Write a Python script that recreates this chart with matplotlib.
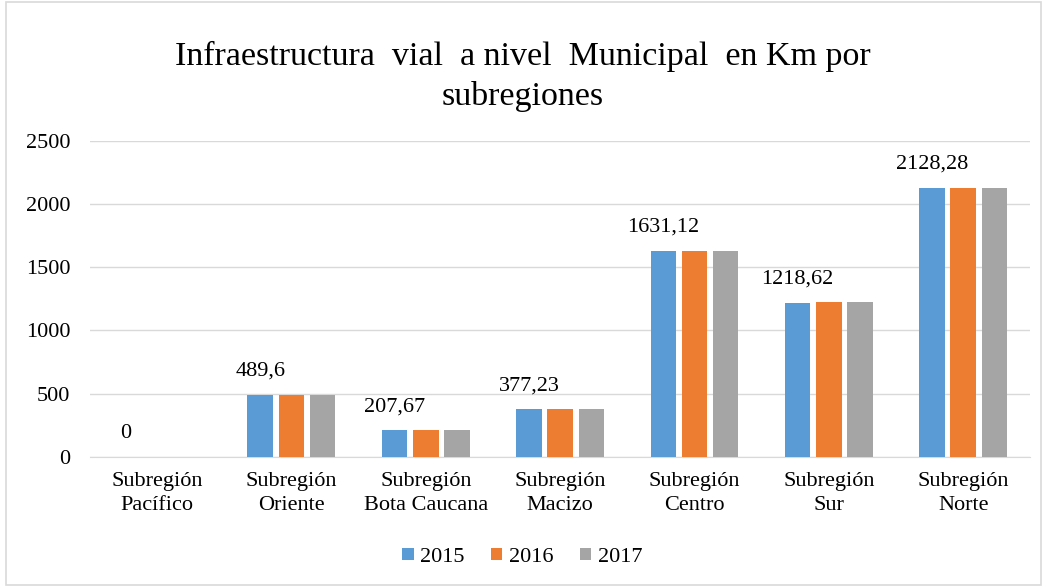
import numpy as np
import matplotlib.pyplot as plt
from matplotlib.patches import Rectangle

plt.rcParams['font.family'] = ['Liberation Serif', 'DejaVu Serif']

# datos
subregiones = ['Subregión\nPacífico', 'Subregión\nOriente', 'Subregión\nBota Caucana',
               'Subregión\nMacizo', 'Subregión\nCentro', 'Subregión\nSur', 'Subregión\nNorte']
km_2015 = [0, 489.6, 207.67, 377.23, 1631.12, 1218.62, 2128.28]
km_2016 = [0, 489.6, 207.67, 377.23, 1631.12, 1226.0, 2128.28]
km_2017 = [0, 489.6, 207.67, 377.23, 1631.12, 1226.0, 2128.28]
etiquetas = ['0', '489,6', '207,67', '377,23', '1631,12', '1218,62', '2128,28']

fig = plt.figure(figsize=(10.45, 5.87), dpi=100)
ax = fig.add_axes([0.086, 0.222, 0.9, 0.538])

x = np.arange(len(subregiones))
w = 0.19
paso = 0.232
ax.bar(x - paso, km_2015, w, color='#5b9bd5', label='2015', zorder=3)
ax.bar(x, km_2016, w, color='#ed7d31', label='2016', zorder=3)
ax.bar(x + paso, km_2017, w, color='#a5a5a5', label='2017', zorder=3)

# etiquetas sobre la serie 2015
for i, t in enumerate(etiquetas):
    ax.annotate(t, (x[i] - paso, km_2015[i]), xytext=(0, 10), textcoords='offset points',
                ha='center', va='bottom', fontsize=16)

ax.set_xlim(-0.5, 6.5)
ax.set_ylim(0, 2500)
ax.set_yticks(range(0, 2501, 500))
ax.set_xticks(x)
ax.set_xticklabels(subregiones, fontsize=16, linespacing=1.35)
ax.tick_params(axis='y', labelsize=16, length=0, pad=14)
ax.tick_params(axis='x', length=0, pad=11)
ax.grid(axis='y', color='#d9d9d9', linewidth=1, zorder=0)
for s in ['top', 'right', 'left']:
    ax.spines[s].set_visible(False)
ax.spines['bottom'].set_color('#d9d9d9')

fig.suptitle('Infraestructura  vial  a nivel  Municipal  en Km por\nsubregiones',
             y=0.93, fontsize=24.5, linespacing=1.35)

fig.legend(loc='lower center', bbox_to_anchor=(0.5, 0.0), ncol=3, frameon=False,
           fontsize=16, handlelength=0.5, handleheight=0.5, handletextpad=0.3,
           columnspacing=1.2)

fig.patches.append(Rectangle((0.006, 0.003), 0.99, 0.994, transform=fig.transFigure,
                             fill=False, edgecolor='#d9d9d9', linewidth=1.2))

fig.savefig('out.png', dpi=100)
